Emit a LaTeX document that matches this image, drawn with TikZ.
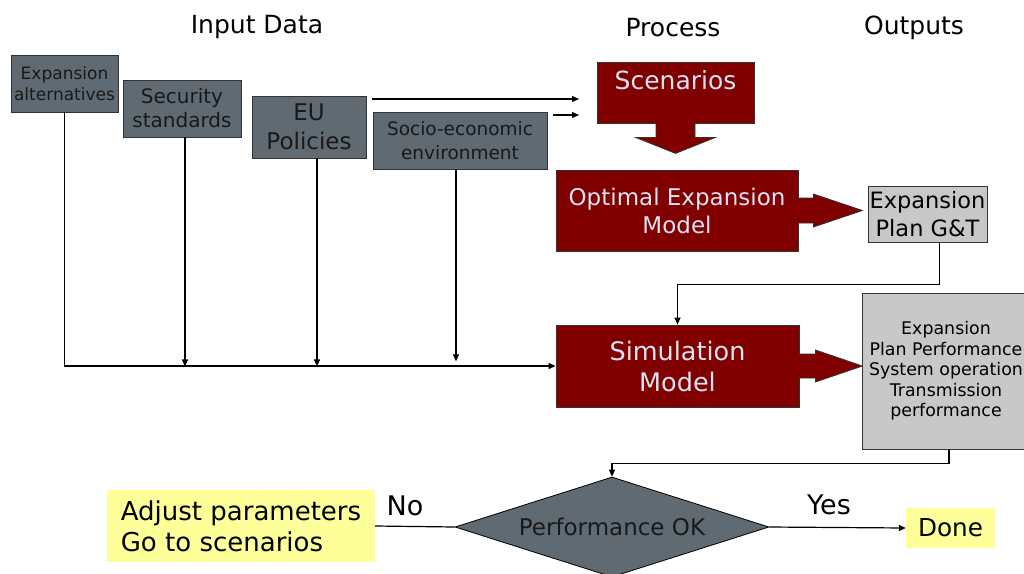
\documentclass[tikz,border=0pt]{standalone}
\usepackage{fontspec}
\setmainfont{DejaVu Sans}
\usetikzlibrary{calc,positioning,shapes.geometric,arrows.meta}
\definecolor{slate}{HTML}{5F6A72}
\definecolor{darkred}{HTML}{800000}
\definecolor{lavender}{HTML}{DCE2F4}
\definecolor{outgray}{HTML}{C8C8C8}
\definecolor{noteyellow}{HTML}{FFFF99}

\begin{document}
\begin{tikzpicture}[
            x=1pt,
            y={(0pt,-1pt)},
            >={Triangle[length=7pt,width=6pt]},
            input/.style={draw=black!80, line width=0.8pt, fill=slate, text=black!90, align=center, inner sep=0pt},
            process/.style={draw=black!80, line width=0.8pt, fill=darkred, text=lavender, align=center, inner sep=0pt},
            block/.style={draw=black!80, line width=0.8pt, fill=darkred},
            output/.style={draw=black!80, line width=0.8pt, fill=outgray, text=black, align=center, inner sep=0pt},
            decision/.style={diamond, draw=black, line width=0.8pt, fill=slate, text=black!90, aspect=3.14, inner sep=0pt},
            note/.style={fill=noteyellow, text=black, inner sep=0pt},
            heading/.style={font=\fontsize{25}{30}\selectfont},
            link/.style={line width=1.2pt},
        ]
        \useasboundingbox (0,0) rectangle (1024,573);
        \fill[white] (0,0) rectangle (1024,573);
        % column headings
        \node[heading] (inhead) at (257,27) {Input Data};
        \node[heading] (prochead) at (673,28) {Process};
        \node[heading] (outhead) at (914,28) {Outputs};
        % INPUT DATA
        \node[input, minimum width=107, minimum height=57, font=\fontsize{17}{21}\selectfont] (alt) at (64.5,83.5) {Expansion\\alternatives};
        \node[input, minimum width=118, minimum height=57, font=\fontsize{20}{24}\selectfont] (sec) at (182,108.5) {Security\\standards};
        \node[input, minimum width=114, minimum height=62, font=\fontsize{23}{29}\selectfont] (eu) at (309,127) {EU\\Policies};
        \node[input, minimum width=174, minimum height=57, font=\fontsize{18.5}{24}\selectfont] (soc) at (460,140.5) {Socio-economic\\environment};
        \coordinate (feedA) at (372,99);
        \coordinate (feedAend) at (579,99);
        \coordinate (feedB) at (553,115);
        \coordinate (feedBend) at (579,115);
        \draw[link,->] (feedA) -- (feedAend);
        \draw[link,->] (feedB) -- (feedBend);
        % PROCESS
        \node[process, minimum width=157, minimum height=61, font=\fontsize{25}{30}\selectfont, text height=20pt, text depth=27pt] (scen) at (675.5,92.5) {Scenarios};
        \filldraw[block] ([shift={(-19.5,-1)}]scen.south) -- ++(0,15) -- ++(-20.5,0) -- ++(40,16) -- ++(40,-16) -- ++(-20.5,0) -- ++(0,-15);
        \node[process, minimum width=242, minimum height=81, font=\fontsize{23}{28}\selectfont] (opt) at (677,210.5) {Optimal Expansion\\Model};
        \filldraw[block] ([shift={(-1,-12.5)}]opt.east) -- ++(16,0) -- ++(0,-4) -- ++(49,16.5) -- ++(-49,16.5) -- ++(0,-4) -- ++(-16,0);
        \node[process, minimum width=243, minimum height=82, font=\fontsize{25.5}{31}\selectfont] (sim) at (677.5,366) {Simulation\\Model};
        \filldraw[block] ([shift={(-1,-12)}]sim.east) -- ++(17,0) -- ++(0,-4) -- ++(47,16) -- ++(-47,16) -- ++(0,-4) -- ++(-17,0);
        % OUTPUTS
        \node[output, minimum width=119, minimum height=56, font=\fontsize{22.5}{28}\selectfont] (plan) at (927.5,214) {Expansion\\Plan G\&T};
        \node[output, minimum width=168, minimum height=156, font=\fontsize{17.4}{20.5}\selectfont] (perf) at (946,371) {Expansion\\Plan Performance\\System operation\\Transmission\\performance};
        % decision
        \node[decision, minimum width=314, minimum height=100, font=\fontsize{23}{28}\selectfont] (ok) at (612,527) {Performance OK};
        \node[note, minimum width=268, minimum height=72, align=left, font=\fontsize{26}{31}\selectfont] (adjust) at (241,526) {Adjust parameters\\Go to scenarios};
        \node[note, minimum width=89, minimum height=40, font=\fontsize{24.7}{30}\selectfont] (done) at (950.5,528) {Done};
        \node[font=\fontsize{27}{32}\selectfont] (nolabel) at (405,506) {No};
        \node[font=\fontsize{27}{32}\selectfont] (yeslabel) at (829,505) {Yes};
        % connectors
        \draw[link,->] (alt.south) |- (sim.west);
        \draw[link,->] ([xshift=3pt]sec.south) -- ++(0,229);
        \draw[link,->] ([xshift=8pt]eu.south) -- ++(0,208);
        \draw[link,->] ([xshift=-4pt]soc.south) -- ++(0,192);
        \draw[link,->] ([xshift=12pt]plan.south) -- ++(0,42) -| (sim.north);
        \draw[link,->] ([xshift=3pt]perf.south) -- ++(0,14) -| (ok.north);
        \draw[link] (ok.west) -- (adjust.east);
        \draw[link,->] (ok.east) -- (done.west);
        \end{tikzpicture}
\end{document}
